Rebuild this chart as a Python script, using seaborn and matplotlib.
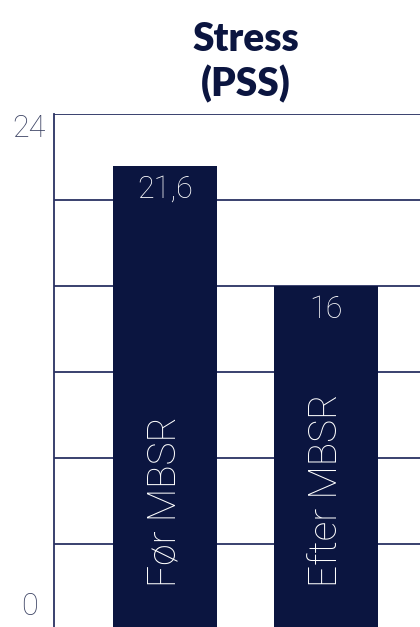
import matplotlib
matplotlib.use("Agg")
import matplotlib.pyplot as plt
import matplotlib.transforms as mtransforms
import seaborn as sns
import pandas as pd

# Data
categories = ["Før MBSR", "Efter MBSR"]
values = [21.6, 16]
value_labels = ["21,6", "16"]
title = "Stress\n(PSS)"
y_ticks = [0, 4, 8, 12, 16, 20, 24]
y_tick_labels = ["0", "24"]

navy = "#0b1540"
grid_col = "#2a3262"
label_col = "#3b4263"

sns.set_style("white")
plt.rcParams["font.family"] = ["Lato", "DejaVu Sans"]
thin = ["Roboto", "DejaVu Sans"]

df = pd.DataFrame({"group": categories, "score": values})

fig = plt.figure(figsize=(4.2, 6.27), dpi=100)
ax = fig.add_axes([54 / 420, -3 / 627, 383 / 420, 516 / 627])

sns.barplot(data=df, x="group", y="score", color=navy, saturation=1,
            width=0.646, ax=ax, zorder=3, edgecolor=navy, linewidth=0)

ax.set_ylim(0, 24)
ax.set_xlim(-0.69, 1.69)
ax.set_yticks(y_ticks)
ax.set_yticklabels([])
ax.set_xticks([])
ax.set_xlabel("")
ax.set_ylabel("")
ax.tick_params(length=0)
ax.yaxis.grid(True, color=grid_col, linewidth=1.3, zorder=0)
ax.set_axisbelow(True)

for side in ["top", "right", "bottom"]:
    ax.spines[side].set_visible(False)
ax.spines["left"].set_color(grid_col)
ax.spines["left"].set_linewidth(1.3)

# Axis end labels
trans = mtransforms.blended_transform_factory(ax.transAxes, ax.transData)
ax.text(-0.065, 24, y_tick_labels[1], transform=trans, ha="center", va="top",
        fontsize=22, fontweight="light", family=thin, color=label_col)
ax.text(-0.065, 0.42, y_tick_labels[0], transform=trans, ha="center", va="bottom",
        fontsize=22, fontweight="light", family=thin, color=label_col)

# Value labels and rotated category names inside the bars
for i, (v, lab, cat) in enumerate(zip(values, value_labels, categories)):
    ax.annotate(lab, (i, v), xytext=(0, -17), textcoords="offset points",
                ha="center", va="center", color="white", fontsize=22,
                fontweight="light", family=thin, zorder=4)
    ax.text(i, 2.0, cat, rotation=90, ha="center", va="bottom", color="white",
            fontsize=28, fontweight="light", family=thin, zorder=4)

ax.set_title(title, fontsize=28, fontweight="heavy", color=navy,
             linespacing=1.2, pad=13)

fig.savefig("out.png", dpi=100)
